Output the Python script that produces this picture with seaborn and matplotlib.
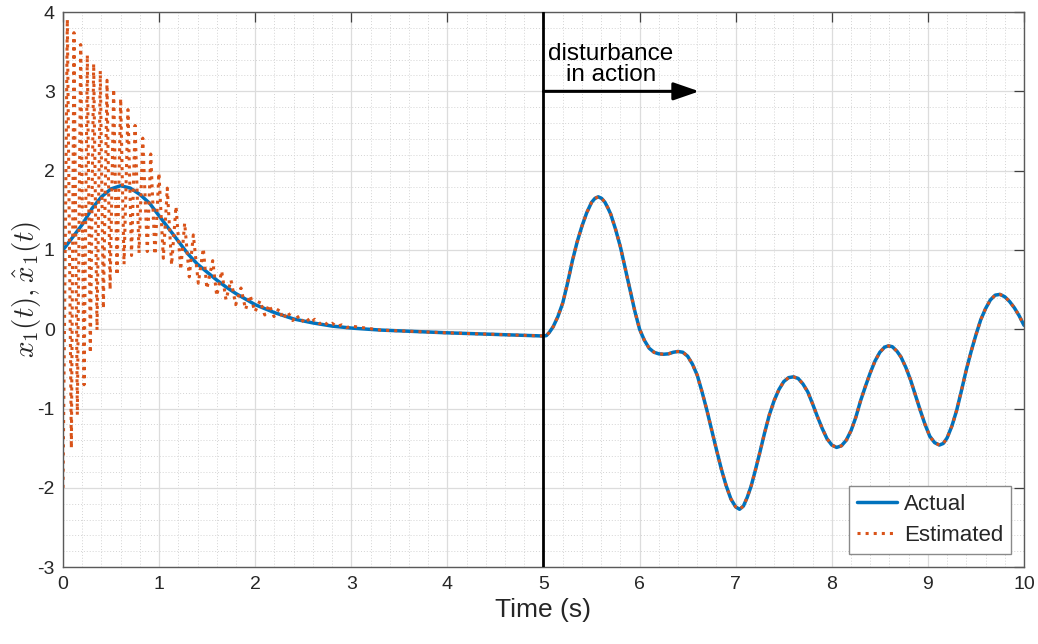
import numpy as np
import pandas as pd
import matplotlib
matplotlib.use("Agg")
import matplotlib.pyplot as plt
import seaborn as sns
from matplotlib.ticker import MultipleLocator

# ---- data ----
actual_t = [0.0, 0.1, 0.2, 0.3, 0.4, 0.5, 0.6, 0.7, 0.8, 0.9, 1.0, 1.1, 1.2, 1.3, 1.4,
            1.5, 1.6, 1.7, 1.8, 1.9, 2.0, 2.2, 2.4, 2.6, 2.8, 3.0, 3.3, 3.6, 4.0, 4.5,
            5.0, 5.03, 5.06, 5.1, 5.15, 5.2, 5.25, 5.3, 5.35, 5.4, 5.45, 5.5, 5.535, 5.57,
            5.605, 5.64, 5.67, 5.7, 5.75, 5.8, 5.85, 5.9, 5.95, 6.0, 6.05, 6.1, 6.15, 6.2,
            6.25, 6.3, 6.35, 6.4, 6.45, 6.5, 6.55, 6.6, 6.65, 6.7, 6.75, 6.8, 6.85, 6.9,
            6.95, 7.0, 7.04, 7.08, 7.12, 7.16, 7.2, 7.25, 7.3, 7.35, 7.4, 7.45, 7.5, 7.55,
            7.6, 7.65, 7.7, 7.75, 7.8, 7.85, 7.9, 7.95, 8.0, 8.05, 8.1, 8.15, 8.2, 8.25,
            8.3, 8.35, 8.4, 8.45, 8.5, 8.55, 8.59, 8.63, 8.68, 8.72, 8.77, 8.82, 8.87, 8.92,
            8.97, 9.02, 9.07, 9.12, 9.16, 9.2, 9.25, 9.3, 9.35, 9.4, 9.45, 9.5, 9.55, 9.6,
            9.65, 9.7, 9.75, 9.8, 9.85, 9.9, 9.95, 10.0]
actual_v = [1.0, 1.16, 1.32, 1.52, 1.67, 1.77, 1.81, 1.78, 1.70, 1.59, 1.43, 1.27, 1.11, 0.95, 0.82,
            0.72, 0.62, 0.53, 0.45, 0.38, 0.31, 0.21, 0.13, 0.08, 0.04, 0.015, -0.01, -0.025, -0.045, -0.065,
            -0.085, -0.08, -0.04, 0.03, 0.16, 0.33, 0.58, 0.86, 1.10, 1.30, 1.47, 1.60, 1.65, 1.67,
            1.65, 1.60, 1.53, 1.45, 1.26, 1.04, 0.77, 0.50, 0.23, 0.0, -0.14, -0.24, -0.29, -0.31,
            -0.315, -0.31, -0.29, -0.28, -0.29, -0.34, -0.44, -0.58, -0.79, -1.02, -1.27, -1.52, -1.76, -1.97,
            -2.14, -2.24, -2.27, -2.23, -2.12, -1.98, -1.80, -1.56, -1.31, -1.08, -0.90, -0.76, -0.66, -0.61,
            -0.60, -0.62, -0.69, -0.79, -0.94, -1.10, -1.25, -1.38, -1.46, -1.49, -1.47, -1.40, -1.28, -1.11,
            -0.90, -0.72, -0.55, -0.40, -0.29, -0.225, -0.21, -0.22, -0.28, -0.35, -0.48, -0.64, -0.83, -1.02,
            -1.20, -1.35, -1.43, -1.46, -1.44, -1.37, -1.22, -1.02, -0.77, -0.51, -0.28, -0.07, 0.12, 0.26,
            0.37, 0.43, 0.44, 0.41, 0.35, 0.27, 0.17, 0.05]

# estimated: observer transient (alternating troughs / peaks), then follows actual
osc_t = [0.0, 0.045, 0.087, 0.114, 0.149, 0.184, 0.219, 0.253, 0.284, 0.319, 0.354, 0.388,
         0.42, 0.458, 0.49, 0.527, 0.562, 0.60, 0.635, 0.676, 0.713, 0.75, 0.791, 0.83,
         0.877, 0.913, 0.957, 0.998, 1.044, 1.085, 1.13, 1.176, 1.225, 1.266, 1.314, 1.356,
         1.408, 1.46, 1.497, 1.558, 1.60, 1.651, 1.696, 1.748, 1.797, 1.852, 1.90, 1.946,
         1.998, 2.05, 2.10, 2.144, 2.196, 2.248, 2.29, 2.338, 2.39, 2.43, 2.48, 2.53,
         2.575, 2.62, 2.67, 2.71, 2.76, 2.80, 2.85, 2.90, 2.95, 3.0]
osc_v = [-2.0, 3.91, -1.50, 3.74, -1.08, 3.59, -0.70, 3.46, -0.30, 3.35, -0.01, 3.26,
         0.26, 3.14, 0.50, 3.03, 0.68, 2.91, 0.82, 2.77, 0.93, 2.57, 0.96, 2.41,
         0.98, 2.21, 0.94, 1.97, 0.895, 1.78, 0.81, 1.55, 0.75, 1.34, 0.66, 1.19,
         0.58, 1.02, 0.51, 0.865, 0.42, 0.735, 0.37, 0.62, 0.31, 0.52, 0.25, 0.43,
         0.22, 0.36, 0.18, 0.31, 0.16, 0.26, 0.13, 0.22, 0.11, 0.18, 0.09, 0.15,
         0.08, 0.126, 0.07, 0.10, 0.05, 0.075, 0.035, 0.055, 0.02, 0.04]

xticks = list(range(0, 11))
yticks = list(range(-3, 5))

est_t = osc_t + [t for t in actual_t if t > 3.0]
est_v = osc_v + [v for t, v in zip(actual_t, actual_v) if t > 3.0]

df_act = pd.DataFrame({"t": actual_t, "v": actual_v})
df_est = pd.DataFrame({"t": est_t, "v": est_v})

# ---- style ----
sns.set_theme(style="white")
plt.rcParams["font.family"] = ["Liberation Sans", "DejaVu Sans"]
plt.rcParams["mathtext.fontset"] = "cm"
plt.rcParams["axes.unicode_minus"] = False

fig = plt.figure(figsize=(10.38, 6.44), dpi=100)
ax = fig.add_axes([0.0607, 0.1193, 0.9258, 0.862])

blue = "#0072BD"
orange = "#D95319"

sns.lineplot(data=df_act, x="t", y="v", ax=ax, color=blue, linewidth=2.5,
             sort=False, estimator=None, label="Actual")
sns.lineplot(data=df_est, x="t", y="v", ax=ax, color=orange, linewidth=2.2,
             linestyle=":", sort=False, estimator=None, label="Estimated")

ax.set_xlim(0, 10)
ax.set_ylim(-3, 4)
ax.set_xticks(xticks)
ax.set_yticks(yticks)
ax.xaxis.set_minor_locator(MultipleLocator(0.2))
ax.yaxis.set_minor_locator(MultipleLocator(0.2))
ax.grid(which="major", color="#dcdcdc", linewidth=0.9, linestyle="-")
ax.grid(which="minor", color="#d4d4d4", linewidth=0.7, linestyle=(0, (1, 2)))
ax.set_axisbelow(True)

for s in ax.spines.values():
    s.set_visible(True)
    s.set_color("#5a5a5a")
    s.set_linewidth(1.0)

ax.tick_params(which="major", direction="in", length=7, width=0.9, color="#404040",
               top=True, right=True, labelsize=14, labelcolor="#262626", pad=6)
ax.tick_params(which="minor", length=0, top=True, right=True)

ax.set_xlabel("Time (s)", fontsize=19, color="#262626", labelpad=4)
ax.set_ylabel(r"$x_1(t),\hat{x}_1(t)$", fontsize=21, color="#262626")
ax.yaxis.set_label_coords(-0.021, 0.5)

# disturbance marker
ax.axvline(5, color="black", linewidth=2.0, zorder=5)
ax.annotate("", xy=(6.62, 3.0), xytext=(5.0, 3.0),
            arrowprops=dict(arrowstyle="-|>,head_length=1.3,head_width=0.45",
                            color="black", linewidth=2.2, shrinkA=0, shrinkB=0),
            zorder=6)
ax.text(5.7, 3.07, "disturbance\nin action", ha="center", va="bottom",
        fontsize=17.5, color="black", linespacing=0.92, zorder=6)

leg = ax.legend(loc="lower right", fontsize=16, frameon=True, fancybox=False,
                borderpad=0.35, handlelength=1.8, handletextpad=0.3,
                labelspacing=0.45, borderaxespad=0.6)
leg.get_frame().set_edgecolor("#8a8a8a")
leg.get_frame().set_linewidth(1.0)
leg.get_frame().set_alpha(1.0)

fig.savefig("out.png", dpi=100)
